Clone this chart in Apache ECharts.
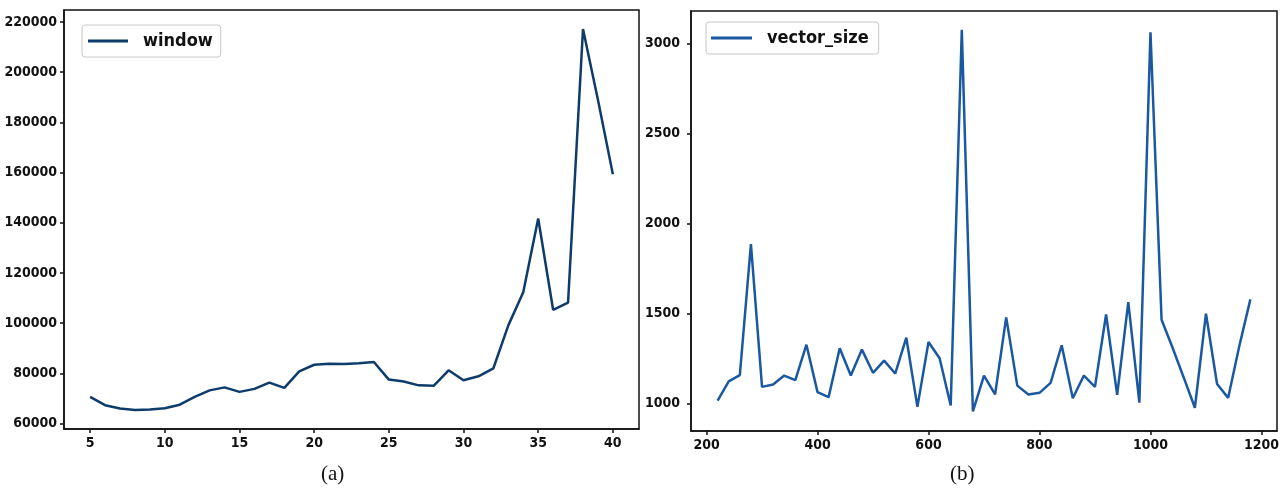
<!DOCTYPE html>
<html>
<head>
<meta charset="utf-8">
<script src="https://cdn.jsdelivr.net/npm/echarts@6/dist/echarts.min.js"></script>
<style>
  html, body { margin: 0; padding: 0; background: #fff; }
  #chart { width: 1284px; height: 491px; }
</style>
</head>
<body>
<div id="chart"></div>
<script>
// (a) window
var windowX = [5, 6, 7, 8, 9, 10, 11, 12, 13, 14, 15, 16, 17, 18, 19, 20, 21, 22, 23, 24, 25, 26, 27, 28, 29, 30, 31, 32, 33, 34, 35, 36, 37, 38, 39, 40];
var windowY = [70600, 67300, 66000, 65400, 65600, 66100, 67500, 70600, 73200, 74400, 72600, 73800, 76300, 74200, 80800, 83400, 83800, 83700, 84000, 84500, 77500, 76700, 75200, 75000, 81200, 77200, 78800, 82000, 99100, 112300, 141700, 105300, 108200, 217200, 189000, 159300];
var windowXTicks = [5, 10, 15, 20, 25, 30, 35, 40];
var windowYTicks = [60000, 80000, 100000, 120000, 140000, 160000, 180000, 200000, 220000];

// (b) vector_size
var vecX = [220, 240, 260, 280, 300, 320, 340, 360, 380, 400, 420, 440, 460, 480, 500, 520, 540, 560, 580, 600, 620, 640, 660, 680, 700, 720, 740, 760, 780, 800, 820, 840, 860, 880, 900, 920, 940, 960, 980, 1000, 1020, 1040, 1060, 1080, 1100, 1120, 1140, 1160, 1180];
var vecY = [1018, 1125, 1159, 1887, 1094, 1107, 1157, 1131, 1328, 1065, 1037, 1308, 1157, 1301, 1172, 1240, 1168, 1367, 983, 1343, 1253, 991, 3076, 958, 1157, 1052, 1480, 1101, 1052, 1061, 1116, 1325, 1031, 1157, 1094, 1496, 1050, 1565, 1006, 3063, 1467, 1310, 1145, 978, 1501, 1110, 1033, 1320, 1580];
var vecXTicks = [200, 400, 600, 800, 1000, 1200];
var vecYTicks = [1000, 1500, 2000, 2500, 3000];

var tickFont = 'DejaVu Sans Condensed, DejaVu Sans, sans-serif';

function pairs(xs, ys) {
    return xs.map(function (x, i) { return [x, ys[i]]; });
}

function axis(gridIndex, min, max, ticks, margin) {
    return {
        type: 'value',
        gridIndex: gridIndex,
        min: min,
        max: max,
        splitLine: { show: false },
        axisLine: { show: true, lineStyle: { color: '#111', width: 1.5 } },
        axisTick: {
            show: true,
            customValues: ticks,
            length: 4,
            lineStyle: { color: '#111', width: 1.5 }
        },
        axisLabel: {
            customValues: ticks,
            margin: margin,
            color: '#111',
            fontSize: 14,
            fontWeight: 'bold',
            fontFamily: tickFont,
            formatter: function (v) { return String(v); }
        }
    };
}

var myChart = echarts.init(document.getElementById('chart'));

var option = {
    animation: false,
    backgroundColor: '#fff',
    grid: [
        { left: 64, right: 645, top: 10, bottom: 62, show: true, borderColor: '#111', borderWidth: 1.5 },
        { left: 691, right: 7, top: 11, bottom: 60, show: true, borderColor: '#111', borderWidth: 1.5 }
    ],
    xAxis: [
        axis(0, 3.25, 41.75, windowXTicks, 7),
        axis(1, 172, 1228, vecXTicks, 7)
    ],
    yAxis: [
        axis(0, 57800, 224800, windowYTicks, 7),
        axis(1, 849, 3181, vecYTicks, 11)
    ],
    legend: [
        {
            data: ['window'],
            left: 82,
            top: 25,
            orient: 'vertical',
            icon: 'rect',
            itemWidth: 40,
            itemHeight: 3,
            padding: [7, 8, 7, 6],
            borderColor: '#c8c8c8',
            borderWidth: 1,
            borderRadius: 3,
            textStyle: { fontSize: 18, fontWeight: 'bold', color: '#111', fontFamily: tickFont, padding: [0, 0, 0, 10] }
        },
        {
            data: ['vector_size'],
            left: 706,
            top: 22,
            orient: 'vertical',
            icon: 'rect',
            itemWidth: 41,
            itemHeight: 3,
            padding: [7, 10, 7, 5],
            borderColor: '#c8c8c8',
            borderWidth: 1,
            borderRadius: 3,
            textStyle: { fontSize: 18, fontWeight: 'bold', color: '#111', fontFamily: tickFont, padding: [0, 0, 0, 10] }
        }
    ],
    graphic: [
        { type: 'text', left: 321, top: 464, style: { text: '(a)', font: '21px "Liberation Serif", serif', fill: '#111' } },
        { type: 'text', left: 950, top: 464, style: { text: '(b)', font: '21px "Liberation Serif", serif', fill: '#111' } }
    ],
    series: [
        {
            name: 'window',
            type: 'line',
            xAxisIndex: 0,
            yAxisIndex: 0,
            data: pairs(windowX, windowY),
            showSymbol: false,
            symbol: 'none',
            itemStyle: { color: '#0d3c6b' },
            lineStyle: { width: 2.5, color: '#0d3c6b' }
        },
        {
            name: 'vector_size',
            type: 'line',
            xAxisIndex: 1,
            yAxisIndex: 1,
            data: pairs(vecX, vecY),
            showSymbol: false,
            symbol: 'none',
            itemStyle: { color: '#1b58a2' },
            lineStyle: { width: 2.5, color: '#1b58a2' }
        }
    ]
};

myChart.setOption(option);
window.addEventListener('resize', function () {
    myChart.resize();
});
</script>
</body>
</html>
